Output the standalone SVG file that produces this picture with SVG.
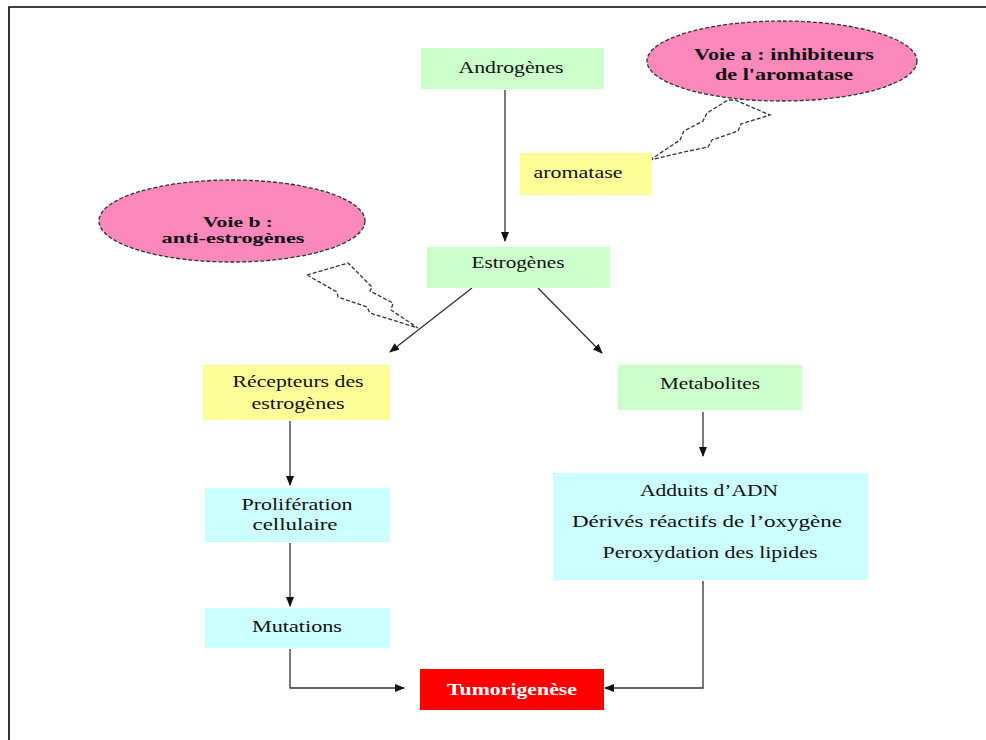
<svg xmlns="http://www.w3.org/2000/svg" width="986" height="740" viewBox="0 0 986 740">
<style>
.t{font-family:"Liberation Serif","Times New Roman",serif;font-size:16px;fill:#111;text-anchor:middle}
.b{font-weight:bold}
.s{font-size:14px}
.w{fill:#fff}
.g{fill:#ccffcc}
.c{fill:#ccffff}
.y{fill:#ffff99}
.r{fill:#ff0000}
.el{fill:#fb88bb;stroke:#333;stroke-width:1.3;stroke-dasharray:4 2}
.bolt{fill:#fff;stroke:#333;stroke-width:1.3;stroke-dasharray:4 2;stroke-linejoin:miter}
.ln{fill:none;stroke:#333;stroke-width:1.3}
</style>
<defs>
<marker id="ah" markerWidth="10" markerHeight="8" refX="9" refY="4" orient="auto" markerUnits="userSpaceOnUse">
<path d="M0,0 L10,4 L0,8 Z" fill="#111"/>
</marker>
</defs>
<rect width="986" height="740" fill="#fff"/>
<path d="M9,740 V7 H986" fill="none" stroke="#000" stroke-width="1.6"/>

<g id="connectors">
<line class="ln" x1="505" y1="90" x2="505" y2="241" marker-end="url(#ah)"/>
<line class="ln" x1="472" y1="288" x2="390" y2="352" marker-end="url(#ah)"/>
<line class="ln" x1="538" y1="288" x2="602" y2="353" marker-end="url(#ah)"/>
<line class="ln" x1="290" y1="421" x2="290" y2="485" marker-end="url(#ah)"/>
<line class="ln" x1="290" y1="543" x2="290" y2="606" marker-end="url(#ah)"/>
<line class="ln" x1="703" y1="412" x2="703" y2="456" marker-end="url(#ah)"/>
<polyline class="ln" points="290,649 290,688 404,688" marker-end="url(#ah)"/>
<polyline class="ln" points="703,581 703,688 605,688" marker-end="url(#ah)"/>
</g>

<g id="bolt-a">
<path class="bolt" d="M650,160 L680,140 L684,131 L703,121 L707,113 L728,100 L735,100 L770,115 L741,124 L738,131 L712,140 L708,147 L684,152 Z"/>
</g>
<g id="bolt-b">
<path class="bolt" d="M307,275 L348,263 L372,287 L370,291 L393,303 L391,310 L418,328 L370,313 L367,307 L338,297 L337,292 Z"/>
</g>

<g id="androgenes">
<rect class="g" x="421" y="48" width="183" height="41"/>
<text class="t" x="511" y="73" textLength="105" lengthAdjust="spacingAndGlyphs">Androgènes</text>
</g>

<g id="voie-a">
<ellipse class="el" cx="782" cy="61" rx="135" ry="40"/>
<text class="t b" x="784" y="60" textLength="180" lengthAdjust="spacingAndGlyphs">Voie a : inhibiteurs</text>
<text class="t b" x="784" y="80" textLength="138" lengthAdjust="spacingAndGlyphs">de l'aromatase</text>
</g>

<g id="aromatase">
<rect class="y" x="520" y="153" width="132" height="42"/>
<text class="t" x="578" y="178" textLength="89" lengthAdjust="spacingAndGlyphs">aromatase</text>
</g>

<g id="voie-b">
<ellipse class="el" cx="232" cy="221" rx="133" ry="41"/>
<text class="t b s" x="238" y="227" textLength="70" lengthAdjust="spacingAndGlyphs">Voie b :</text>
<text class="t b s" x="233" y="243" textLength="143" lengthAdjust="spacingAndGlyphs">anti-estrogènes</text>
</g>

<g id="estrogenes">
<rect class="g" x="427" y="247" width="183" height="41"/>
<text class="t" x="518" y="268" textLength="93" lengthAdjust="spacingAndGlyphs">Estrogènes</text>
</g>

<g id="recepteurs">
<rect class="y" x="203" y="365" width="187" height="55"/>
<text class="t" x="298" y="387" textLength="131" lengthAdjust="spacingAndGlyphs">Récepteurs des</text>
<text class="t" x="298" y="409" textLength="93" lengthAdjust="spacingAndGlyphs">estrogènes</text>
</g>

<g id="metabolites">
<rect class="g" x="618" y="365" width="184" height="45"/>
<text class="t" x="710" y="389" textLength="100" lengthAdjust="spacingAndGlyphs">Metabolites</text>
</g>

<g id="proliferation">
<rect class="c" x="205" y="488" width="185" height="54"/>
<text class="t" x="297" y="510" textLength="111" lengthAdjust="spacingAndGlyphs">Prolifération</text>
<text class="t" x="295" y="530" textLength="85" lengthAdjust="spacingAndGlyphs">cellulaire</text>
</g>

<g id="adduits">
<rect class="c" x="553" y="473" width="315" height="107"/>
<text class="t" x="709" y="496" textLength="138" lengthAdjust="spacingAndGlyphs">Adduits d’ADN</text>
<text class="t" x="707" y="527" textLength="270" lengthAdjust="spacingAndGlyphs">Dérivés réactifs de l’oxygène</text>
<text class="t" x="710" y="558" textLength="215" lengthAdjust="spacingAndGlyphs">Peroxydation des lipides</text>
</g>

<g id="mutations">
<rect class="c" x="205" y="608" width="185" height="40"/>
<text class="t" x="297" y="632" textLength="90" lengthAdjust="spacingAndGlyphs">Mutations</text>
</g>

<g id="tumorigenese">
<rect class="r" x="420" y="669" width="184" height="41"/>
<text class="t b w" x="512" y="695" textLength="130" lengthAdjust="spacingAndGlyphs">Tumorigenèse</text>
</g>
</svg>
